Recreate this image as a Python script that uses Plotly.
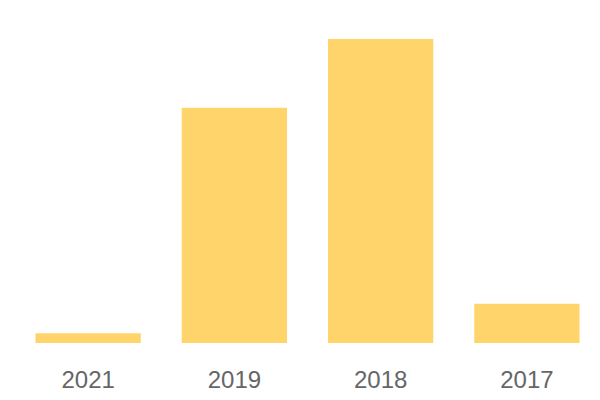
import plotly.graph_objects as go

categories = ["2021", "2019", "2018", "2017"]
values = [1, 24, 31, 4]

fig = go.Figure(go.Bar(
    x=categories, y=values,
    marker=dict(color="#FFD56B", line=dict(width=0)),
))
fig.update_layout(
    width=600, height=400,
    margin=dict(l=7, r=8, t=31, b=65),
    paper_bgcolor="white", plot_bgcolor="white",
    bargap=0.28,
    showlegend=False,
    font=dict(family="Liberation Sans, Arial, sans-serif", color="#666666"),
)
fig.update_xaxes(type="category", showgrid=False, showline=False, zeroline=False,
                 ticks="outside", ticklen=15, tickcolor="rgba(0,0,0,0)",
                 tickfont=dict(size=24, color="#666666"))
fig.update_yaxes(range=[0, 31], visible=False, showgrid=False, zeroline=False)
fig.write_html("out.html")
